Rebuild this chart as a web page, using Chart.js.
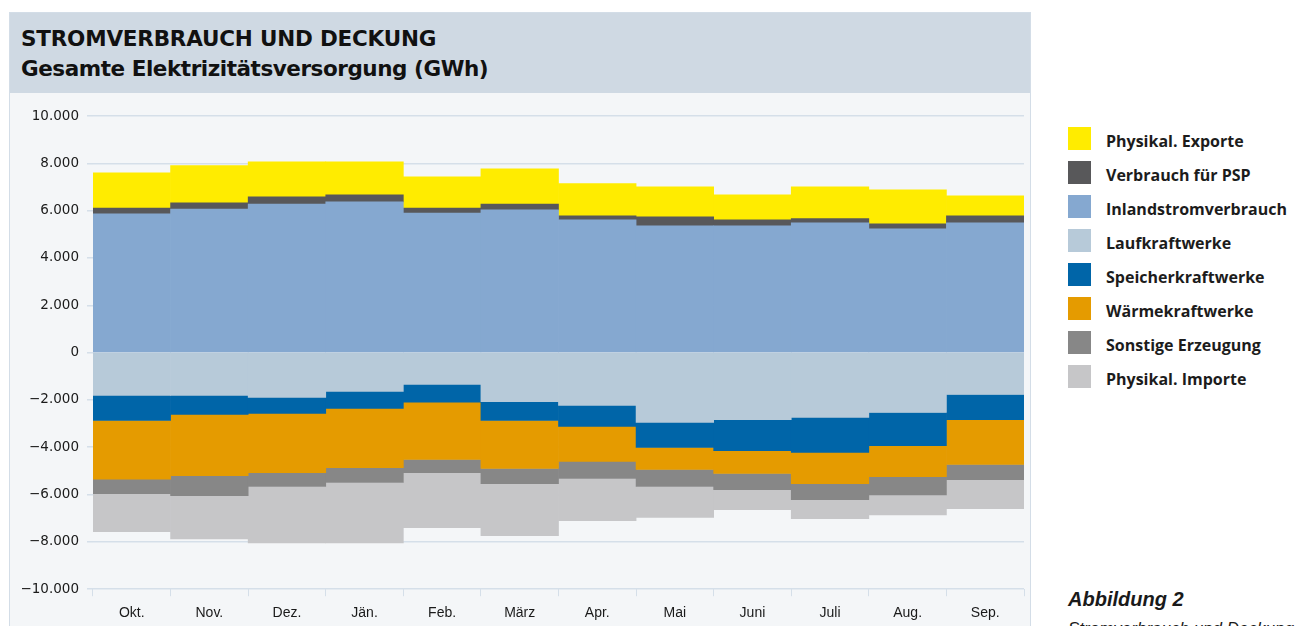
<!DOCTYPE html>
<html lang="de">
<head>
<meta charset="utf-8">
<title>Stromverbrauch und Deckung</title>
<script src="https://cdn.jsdelivr.net/npm/chart.js@4.4.1/dist/chart.umd.min.js"></script>
<style>
  html, body { margin: 0; padding: 0; background: #fff; width: 1295px; height: 626px; overflow: hidden; }
  body { position: relative; font-family: "Liberation Sans", Arial, sans-serif; color: #1a1a1a; }
  .panel { position: absolute; left: 9px; top: 12px; width: 1020px; height: 640px; background: #f4f6f8; border: 1px solid #d3dde7; }
  .head { position: absolute; left: 0; top: 0; right: 0; height: 80px; background: #cfd9e3; }
  .head h1, .head h2 { margin: 0; position: absolute; left: 11px; font-family: "DejaVu Sans", sans-serif; font-size: 21.5px; font-weight: bold; color: #111; white-space: nowrap; letter-spacing: -0.2px; }
  .head h1 { top: 13px; }
  .head h2 { top: 43px; letter-spacing: -0.45px; }
  .plot { position: absolute; left: 0; top: 80px; width: 1020px; height: 538px; }
  .legend { position: absolute; left: 1068px; top: 127px; }
  .legend div { height: 34px; position: relative; font-family: "Open Sans", sans-serif; font-size: 16px; font-weight: 700; color: #1c1c1c; white-space: nowrap; }
  .legend span { position: absolute; left: 0; top: 0; width: 23px; height: 23px; }
  .legend b { position: absolute; left: 38px; top: 3px; font-weight: 700; }
  .cap { position: absolute; left: 1068px; top: 588px; font-style: italic; white-space: nowrap; }
  .cap .t1 { font-weight: bold; font-size: 20px; }
  .cap .t2 { font-size: 17px; margin-top: 8px; }
</style>
</head>
<body>
<div class="panel">
  <div class="head">
    <h1>STROMVERBRAUCH UND DECKUNG</h1>
    <h2>Gesamte Elektrizitätsversorgung (GWh)</h2>
  </div>
  <div class="plot"><canvas id="c"></canvas></div>
</div>
<div class="legend" id="legend"></div>
<div class="cap"><div class="t1">Abbildung 2</div><div class="t2">Stromverbrauch und Deckung</div></div>

<script>
// ── Data (GWh) ──────────────────────────────────────────────
const months = ["Okt.", "Nov.", "Dez.", "Jän.", "Feb.", "März", "Apr.", "Mai", "Juni", "Juli", "Aug.", "Sep."];
const yTicks = [-10000, -8000, -6000, -4000, -2000, 0, 2000, 4000, 6000, 8000, 10000];

// Verwendung (positiv)
const inland   = [5860, 6070, 6280, 6370, 5900, 6030, 5610, 5360, 5360, 5490, 5230, 5490];
const psp      = [250, 260, 300, 300, 210, 250, 170, 380, 250, 170, 210, 290];
const exporte  = [1490, 1570, 1480, 1390, 1320, 1490, 1360, 1270, 1060, 1350, 1440, 850];

// Aufbringung (negativ)
const lauf     = [-1810, -1810, -1890, -1640, -1340, -2070, -2230, -2950, -2830, -2740, -2530, -1770];
const speicher = [-1060, -800, -680, -720, -760, -800, -890, -1060, -1310, -1480, -1400, -1060];
const waerme   = [-2480, -2590, -2500, -2500, -2420, -2030, -1480, -930, -970, -1320, -1310, -1900];
const sonstige = [-610, -850, -590, -630, -550, -640, -720, -720, -680, -680, -770, -640];
const importe  = [-1610, -1820, -2380, -2550, -2330, -2200, -1780, -1310, -850, -800, -850, -1230];

// ── Series (stack order) ────────────────────────────────────
const series = [
  { label: "Inlandstromverbrauch", data: inland,   color: "#85a8d0" },
  { label: "Verbrauch für PSP",    data: psp,      color: "#58585a" },
  { label: "Physikal. Exporte",    data: exporte,  color: "#ffec00" },
  { label: "Laufkraftwerke",       data: lauf,     color: "#b7cad9" },
  { label: "Speicherkraftwerke",   data: speicher, color: "#0065a8" },
  { label: "Wärmekraftwerke",      data: waerme,   color: "#e59b00" },
  { label: "Sonstige Erzeugung",   data: sonstige, color: "#878787" },
  { label: "Physikal. Importe",    data: importe,  color: "#c6c6c8" },
];
const legendOrder = ["Physikal. Exporte", "Verbrauch für PSP", "Inlandstromverbrauch", "Laufkraftwerke",
                     "Speicherkraftwerke", "Wärmekraftwerke", "Sonstige Erzeugung", "Physikal. Importe"];

// ── Legend ──────────────────────────────────────────────────
const legendEl = document.getElementById("legend");
legendOrder.forEach(name => {
  const s = series.find(d => d.label === name);
  const row = document.createElement("div");
  row.innerHTML = `<span style="background:${s.color}"></span><b>${s.label}</b>`;
  legendEl.appendChild(row);
});

// ── Chart ───────────────────────────────────────────────────
const fmt = v => (v < 0 ? "\u2212" : "") + Math.abs(v).toLocaleString("de-DE");
const gridColor = "#d5dfe9";

new Chart(document.getElementById("c").getContext("2d"), {
  type: "bar",
  data: {
    labels: months,
    datasets: series.map(s => ({
      label: s.label,
      data: s.data,
      backgroundColor: s.color,
      borderWidth: 0,
      barPercentage: 1,
      categoryPercentage: 1,
    })),
  },
  options: {
    responsive: true,
    maintainAspectRatio: false,
    animation: false,
    layout: { padding: { top: 23, right: 6, left: 0, bottom: 0 } },
    plugins: { legend: { display: false }, tooltip: { enabled: false } },
    scales: {
      x: {
        stacked: true,
        grid: { offset: true, drawOnChartArea: false, color: gridColor, tickLength: 7, lineWidth: 1 },
        border: { display: false },
        ticks: { color: "#1a1a1a", font: { family: "'Liberation Sans', Arial", size: 14 }, padding: 9 },
      },
      y: {
        stacked: true,
        min: -10000,
        max: 10000,
        afterBuildTicks: axis => { axis.ticks = yTicks.map(v => ({ value: v })); },
        afterFit: axis => { axis.width = 83; },
        grid: { color: gridColor, lineWidth: 1.5, tickLength: 6 },
        border: { display: false },
        ticks: {
          color: "#1a1a1a",
          font: { family: "'DejaVu Sans', sans-serif", size: 13.5 },
          padding: 8,
          callback: v => fmt(v),
        },
      },
    },
  },
});
</script>
</body>
</html>
